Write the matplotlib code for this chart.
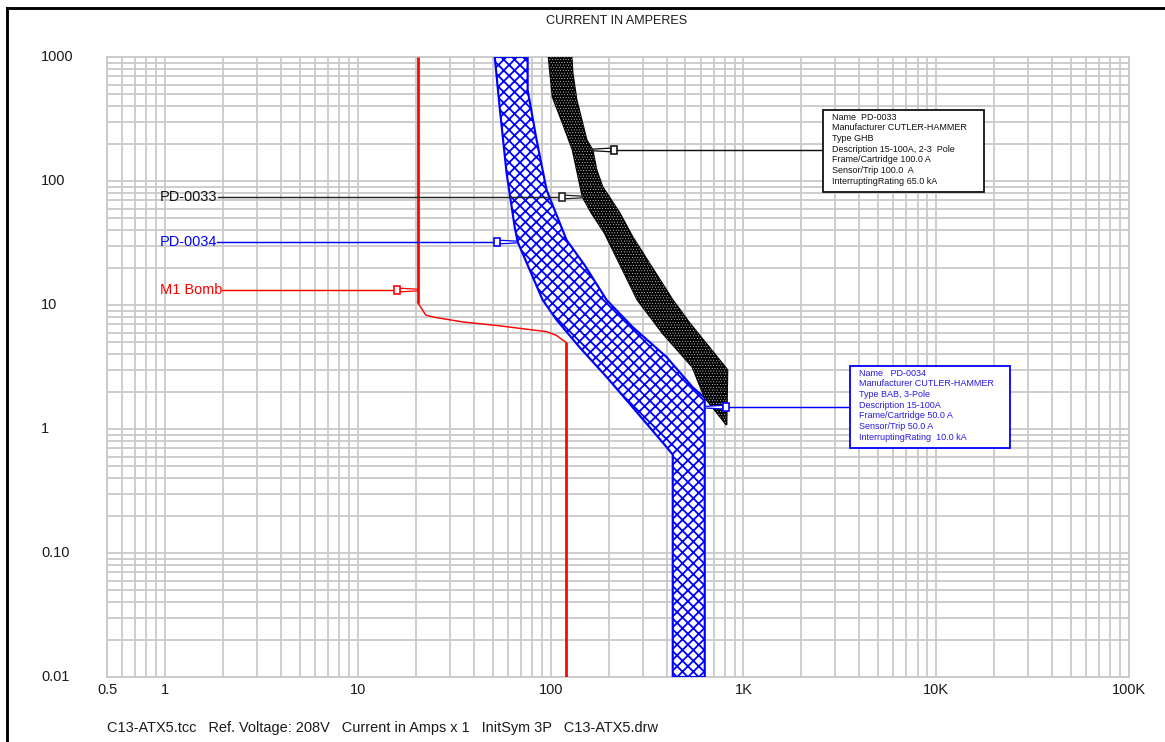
import numpy as np
import matplotlib
matplotlib.use("Agg")
import matplotlib.pyplot as plt
from matplotlib.patches import Polygon, Rectangle
from matplotlib.lines import Line2D
from matplotlib.ticker import LogLocator, NullFormatter
from matplotlib import transforms as mtransforms

# ---------------- data ----------------
# M1 Bomb (red) trip curve: current [A], time [s]
m1_current = [20.5, 20.5, 22.5, 24.5, 35.0, 54.0, 95.0, 107.0, 120.0, 120.0]
m1_time = [1000, 10.4, 8.3, 8.0, 7.3, 6.8, 6.1, 5.7, 5.0, 0.01]

# PD-0034 band (blue): minimum and maximum clearing edges
pd34_min_current = [51.3, 54.4, 59.1, 65.1, 67.5, 77.9, 90.9, 107.5, 141.0, 195.0, 266.0, 399.0, 430.0, 430.0]
pd34_min_time = [1000, 395, 116, 42.6, 32.2, 19.2, 11.0, 7.57, 4.58, 2.63, 1.50, 0.716, 0.62, 0.01]
pd34_max_current = [76.0, 76.0, 84.6, 95.3, 121.0, 150.0, 195.0, 266.0, 399.0, 544.0, 630.0, 630.0]
pd34_max_time = [1000, 542, 214, 84.6, 33.4, 21.0, 11.0, 6.65, 3.81, 2.18, 1.78, 0.01]

# PD-0033 band (black)
pd33_min_current = [97.6, 102.4, 115.4, 130.0, 141.4, 146.5, 163.0, 190.5, 282.0, 380.0, 544.0, 628.0, 817.0]
pd33_min_time = [1000, 475, 294, 178, 96.4, 74.3, 55.2, 38.1, 11.0, 5.95, 3.16, 1.81, 1.08]
pd33_max_current = [128.5, 130.0, 136.4, 153.7, 165.0, 173.0, 186.0, 228.0, 266.0, 429.0, 525.0, 751.0, 826.0, 817.0]
pd33_max_time = [1000, 743, 450, 214, 178, 122.7, 89.5, 55.2, 35.4, 11.0, 7.16, 3.60, 2.99, 1.08]

# axis tick labels
x_tick_values = [0.5, 1, 10, 100, 1000, 10000, 100000]
x_tick_labels = ["0.5", "1", "10", "100", "1K", "10K", "100K"]
y_tick_values = [1000, 100, 10, 1, 0.1, 0.01]
y_tick_labels = ["1000", "100", "10", "1", "0.10", "0.01"]

pd33_info = ["Name  PD-0033", "Manufacturer CUTLER-HAMMER", "Type GHB",
             "Description 15-100A, 2-3  Pole", "Frame/Cartridge 100.0 A",
             "Sensor/Trip 100.0  A", "InterruptingRating 65.0 kA"]
pd34_info = ["Name   PD-0034", "Manufacturer CUTLER-HAMMER", "Type BAB, 3-Pole",
             "Description 15-100A", "Frame/Cartridge 50.0 A",
             "Sensor/Trip 50.0 A", "InterruptingRating  10.0 kA"]

# ---------------- figure ----------------
plt.rcParams["font.family"] = ["Liberation Sans", "DejaVu Sans"]

W, H, DPI = 1165, 742, 130
fig = plt.figure(figsize=(W / DPI, H / DPI), dpi=DPI)
fig.patch.set_facecolor("white")
PX = mtransforms.IdentityTransform()


def P(x, y):
    """pixel position measured from the top-left corner -> display coords"""
    return x, H - y


ax = fig.add_axes([107 / W, 1 - 677 / H, (1129 - 107) / W, (677 - 57) / H])
ax.set_xscale("log")
ax.set_yscale("log")
ax.set_xlim(0.5, 100000)
ax.set_ylim(0.01, 1000)

grid_c = "#c9c9c9"
for axis in (ax.xaxis, ax.yaxis):
    axis.set_major_locator(LogLocator(base=10, subs=(1.0,), numticks=20))
    axis.set_minor_locator(LogLocator(base=10, subs=np.arange(2, 10), numticks=40))
    axis.set_minor_formatter(NullFormatter())
ax.grid(True, which="both", color=grid_c, linewidth=1.0)
ax.set_axisbelow(True)
ax.tick_params(which="both", length=0, labelleft=False, labelbottom=False)
for s in ax.spines.values():
    s.set_color(grid_c)
    s.set_linewidth(1.0)

# ---------------- bands ----------------
def band(min_i, min_t, max_i, max_t):
    xs = list(min_i) + list(max_i[::-1])
    ys = list(min_t) + list(max_t[::-1])
    return np.column_stack([xs, ys])


blue = "#0000ff"
plt.rcParams["hatch.linewidth"] = 1.0
ax.add_patch(Polygon(band(pd34_min_current, pd34_min_time, pd34_max_current, pd34_max_time),
                     closed=True, facecolor="white", edgecolor=blue, hatch="xxxx",
                     linewidth=1.2, zorder=3))

pd33_poly = band(pd33_min_current, pd33_min_time, pd33_max_current, pd33_max_time)
ax.add_patch(Polygon(pd33_poly, closed=True, facecolor="black", edgecolor="black",
                     linewidth=1.0, zorder=4))
plt.rcParams["hatch.linewidth"] = 0.2
ax.add_patch(Polygon(pd33_poly, closed=True, fill=False, edgecolor="white",
                     hatch="........", linewidth=0, zorder=5))
plt.rcParams["hatch.linewidth"] = 1.0

# M1 Bomb curve: heavy verticals, light knee
red = "#ff0000"
ax.plot(m1_current[:2], m1_time[:2], color=red, linewidth=1.5, zorder=6, solid_capstyle="butt")
ax.plot(m1_current[1:-1], m1_time[1:-1], color=red, linewidth=0.8, zorder=6)
ax.plot(m1_current[-2:], m1_time[-2:], color=red, linewidth=1.5, zorder=6, solid_capstyle="butt")

# ---------------- tick labels ----------------
fs = 8
for v, s in zip(y_tick_values, y_tick_labels):
    ax.text(41 / W, v, s, transform=mtransforms.blended_transform_factory(fig.transFigure, ax.transData),
            ha="left", va="center", fontsize=fs, color="#1a1a1a", clip_on=False)
for v, s in zip(x_tick_values, x_tick_labels):
    ax.text(v, 1 - 690 / H, s, transform=mtransforms.blended_transform_factory(ax.transData, fig.transFigure),
            ha="center", va="center", fontsize=fs, color="#1a1a1a", clip_on=False)

fig.text(617 / W, 1 - 21 / H, "CURRENT IN AMPERES", ha="center", va="center", fontsize=7, color="#1a1a1a")
fig.text(107 / W, 1 - 728 / H,
         "C13-ATX5.tcc   Ref. Voltage: 208V   Current in Amps x 1   InitSym 3P   C13-ATX5.drw",
         ha="left", va="center", fontsize=fs, color="#1a1a1a")

# page frame
fig.add_artist(Line2D([7, 7], [0, H - 8], transform=PX, color="black", linewidth=1.6))
fig.add_artist(Line2D([7, W], [H - 8, H - 8], transform=PX, color="black", linewidth=1.6))

# ---------------- leaders ----------------
renderer = fig.canvas.get_renderer()


def marker(tip, side, color):
    """small flag + shaft touching a curve; side=-1 -> flag on the left of the tip"""
    tx, ty = ax.transData.transform(tip)
    shaft, bw, bh = 18, 6, 4
    sx = tx + side * shaft
    fig.add_artist(Polygon([(tx, ty + 0.8), (sx, ty + 1.8), (sx, ty - 1.8), (tx, ty - 0.8)],
                           closed=True, transform=PX, facecolor="white", edgecolor=color,
                           linewidth=0.7, zorder=8))
    bx0 = min(sx, sx + side * bw)
    fig.add_artist(Rectangle((bx0, ty - bh), bw, 2 * bh, transform=PX, facecolor="white",
                             edgecolor=color, linewidth=0.9, zorder=8))
    return sx + side * bw, ty


def left_label(tip, text, color, line_color):
    ex, ey = marker(tip, -1, line_color)
    t = fig.text(160, ey, text, transform=PX, ha="left", va="center", fontsize=8, color=color, zorder=9)
    bb = t.get_window_extent(renderer=renderer)
    fig.add_artist(Line2D([bb.x1, ex], [ey, ey], transform=PX, color=line_color, linewidth=0.8, zorder=7))


left_label((146.5, 74.3), "PD-0033", "#111111", "#222222")
left_label((67.5, 32.2), "PD-0034", blue, blue)
left_label((m1_current[0], 13.2), "M1 Bomb", red, red)


def info_box(tip, box, lines, color, text_color):
    ex, ey = marker(tip, +1, color)
    x0, y0, x1, y1 = box
    fig.add_artist(Line2D([ex, x0], [ey, ey], transform=PX, color=color, linewidth=0.8, zorder=7))
    fig.add_artist(Rectangle(P(x0, y1), x1 - x0, y1 - y0, transform=PX, facecolor="white",
                             edgecolor=color, linewidth=1.0, zorder=8))
    for i, s in enumerate(lines):
        fig.text(*P(x0 + 9, y0 + 7 + i * 10.7), s, transform=PX, ha="left", va="center",
                 fontsize=5.0, color=text_color, zorder=9)


info_box((165.0, 178.0), (823, 110, 984, 192), pd33_info, "#111111", "#111111")
info_box((630.0, 1.5), (850, 366, 1010, 448), pd34_info, blue, "#2a1ae0")

fig.savefig("out.png", dpi=DPI, facecolor="white")
